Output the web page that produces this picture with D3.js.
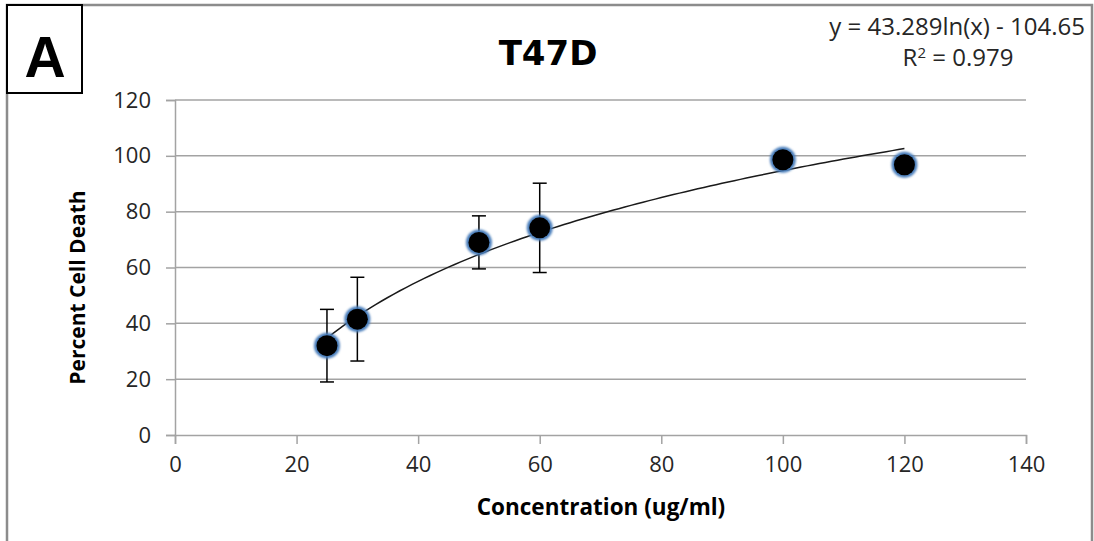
<!DOCTYPE html>
<html>
<head>
<meta charset="utf-8">
<script src="https://cdn.jsdelivr.net/npm/d3@7"></script>
<style>
  html, body { margin: 0; padding: 0; background: #fff; }
  svg { display: block; }
</style>
</head>
<body>
<div id="chart"></div>
<script>
// concentrations (ug/ml), mean percent cell death and error (+/-)
const concentrations = [25, 30, 50, 60, 100, 120];
const cellDeath = [32, 41.5, 69, 74.2, 98.6, 96.8];
const errors = [13, 15, 9.5, 16, 0, 0];
const xTicks = [0, 20, 40, 60, 80, 100, 120, 140];
const yTicks = [0, 20, 40, 60, 80, 100, 120];
// logarithmic trendline as reported on the chart
const trendCoef = [43.289, -104.65];
const trendRange = [25, 120];

const W = 1094, H = 541;
const margin = { left: 175, right: 68, top: 100, bottom: 106 };

const svg = d3.select("#chart").append("svg")
    .attr("width", W)
    .attr("height", H);

const defs = svg.append("defs");
const glow = defs.append("filter").attr("id", "glow")
    .attr("x", "-50%").attr("y", "-50%").attr("width", "200%").attr("height", "200%");
glow.append("feGaussianBlur").attr("stdDeviation", 0.9);

// outer chart frame (bottom runs off the picture)
svg.append("rect")
    .attr("x", 7).attr("y", 5)
    .attr("width", 1085).attr("height", 560)
    .attr("fill", "#fff")
    .attr("stroke", "#8c8c8c")
    .attr("stroke-width", 2.5);

const x = d3.scaleLinear().domain([0, 140]).range([margin.left, W - margin.right]);
const y = d3.scaleLinear().domain([0, 120]).range([H - margin.bottom, margin.top]);

const gridColor = "#a3a3a3";
const tickFont = "'Open Sans', sans-serif";

// horizontal gridlines
svg.append("g")
    .selectAll("line")
    .data(yTicks.filter(d => d > 0))
    .join("line")
    .attr("x1", x(0)).attr("x2", x(140))
    .attr("y1", d => y(d)).attr("y2", d => y(d))
    .attr("stroke", gridColor)
    .attr("stroke-width", 1.5);

// y axis
const yAxis = svg.append("g")
    .attr("transform", `translate(${x(0)},0)`)
    .call(d3.axisLeft(y).tickValues(yTicks).tickSize(9).tickPadding(15));
// x axis
const xAxis = svg.append("g")
    .attr("transform", `translate(0,${y(0)})`)
    .call(d3.axisBottom(x).tickValues(xTicks).tickSize(9).tickPadding(12));

[xAxis, yAxis].forEach(g => {
    g.select(".domain").attr("stroke", gridColor).attr("stroke-width", 1.5);
    g.selectAll(".tick line").attr("stroke", gridColor).attr("stroke-width", 1.5);
    g.selectAll(".tick text")
        .attr("fill", "#262626")
        .style("font-family", tickFont)
        .style("font-size", "22px");
});

// trendline
const trend = d3.range(trendRange[0], trendRange[1] + 0.5, 1)
    .map(c => [c, trendCoef[0] * Math.log(c) + trendCoef[1]]);
svg.append("path")
    .datum(trend)
    .attr("fill", "none")
    .attr("stroke", "#1a1a1a")
    .attr("stroke-width", 1.5)
    .attr("d", d3.line().x(d => x(d[0])).y(d => y(d[1])));

const pts = concentrations.map((c, i) => ({ c, v: cellDeath[i], e: errors[i] }));

// error bars
const eb = svg.append("g").selectAll("g")
    .data(pts.filter(d => d.e > 0))
    .join("g")
    .attr("stroke", "#000")
    .attr("stroke-width", 1.5);
eb.append("line")
    .attr("x1", d => x(d.c)).attr("x2", d => x(d.c))
    .attr("y1", d => y(d.v + d.e)).attr("y2", d => y(d.v - d.e));
eb.append("line")
    .attr("x1", d => x(d.c) - 7).attr("x2", d => x(d.c) + 7)
    .attr("y1", d => y(d.v + d.e)).attr("y2", d => y(d.v + d.e));
eb.append("line")
    .attr("x1", d => x(d.c) - 7).attr("x2", d => x(d.c) + 7)
    .attr("y1", d => y(d.v - d.e)).attr("y2", d => y(d.v - d.e));

// markers
const mk = svg.append("g").selectAll("g").data(pts).join("g")
    .attr("transform", d => `translate(${x(d.c)},${y(d.v)})`);
mk.append("circle")
    .attr("r", 13)
    .attr("fill", "#4a7ebb")
    .attr("filter", "url(#glow)");
mk.append("circle")
    .attr("r", 10.5)
    .attr("fill", "#000");

// title
svg.append("text")
    .attr("x", 548).attr("y", 65)
    .attr("text-anchor", "middle")
    .style("font-family", "'DejaVu Sans', sans-serif")
    .style("font-weight", "bold")
    .style("font-size", "34px")
    .attr("fill", "#000")
    .text("T47D");

// trendline equation
svg.append("text")
    .attr("x", 1085).attr("y", 35)
    .attr("text-anchor", "end")
    .style("font-family", tickFont)
    .style("font-size", "24px")
    .attr("fill", "#262626")
    .text("y = 43.289ln(x) - 104.65");
const r2 = svg.append("text")
    .attr("x", 958).attr("y", 66)
    .attr("text-anchor", "middle")
    .style("font-family", tickFont)
    .style("font-size", "24px")
    .attr("fill", "#262626");
r2.append("tspan").text("R");
r2.append("tspan").attr("dy", -8).style("font-size", "15px").text("2");
r2.append("tspan").attr("dy", 8).text(" = 0.979");

// axis titles
svg.append("text")
    .attr("transform", `translate(85,${(y(0) + y(120)) / 2 + 20}) rotate(-90)`)
    .attr("text-anchor", "middle")
    .style("font-family", tickFont)
    .style("font-weight", "bold")
    .style("font-size", "21px")
    .attr("fill", "#000")
    .text("Percent Cell Death");
svg.append("text")
    .attr("x", 601).attr("y", 515)
    .attr("text-anchor", "middle")
    .style("font-family", tickFont)
    .style("font-weight", "bold")
    .style("font-size", "22.5px")
    .attr("fill", "#000")
    .text("Concentration (ug/ml)");

// panel label box
svg.append("rect")
    .attr("x", 7).attr("y", 5)
    .attr("width", 75).attr("height", 88)
    .attr("fill", "#fff")
    .attr("stroke", "#000")
    .attr("stroke-width", 2);
svg.append("text")
    .attr("x", 45).attr("y", 77)
    .attr("text-anchor", "middle")
    .style("font-family", "'Liberation Sans', Arial, sans-serif")
    .style("font-weight", "bold")
    .style("font-size", "57px")
    .attr("fill", "#000")
    .text("A");
</script>
</body>
</html>
